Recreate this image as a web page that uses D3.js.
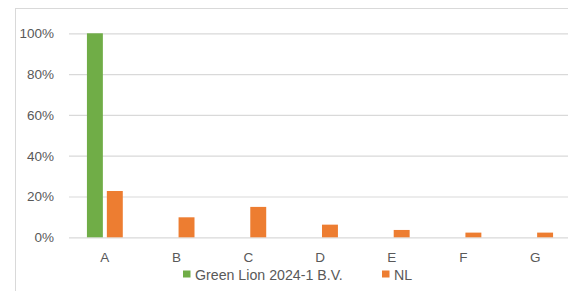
<!DOCTYPE html>
<html><head><meta charset="utf-8">
<script src="https://cdn.jsdelivr.net/npm/d3@7"></script>
<style>html,body{margin:0;padding:0;background:#fff;overflow:hidden}</style>
</head><body>
<svg id="c" width="568" height="291"></svg>
<script>
const categories = ["A","B","C","D","E","F","G"];
const seriesNames = ["Green Lion 2024-1 B.V.","NL"];
const greenLion = [100,0,0,0,0,0,0];
const nl = [22.7,9.8,14.9,6.2,3.6,2.3,2.3];
const yTicks = [0,20,40,60,80,100];
const colors = ["#70AD47","#ED7D31"];

(function(){
const svg = d3.select("#c");
const font = "'Liberation Sans', Arial, sans-serif";
const textColor = "#595959";

svg.append("rect").attr("x",15.5).attr("y",8.5).attr("width",600).attr("height",300)
  .attr("fill","#fff").attr("stroke","#d9d9d9").attr("stroke-width",1);

const pLeft = 69, pRight = 571, pTop = 33.3, pBottom = 237.3;
const x = d3.scaleBand().domain(categories).range([pLeft,pRight]).paddingInner(0.5).paddingOuter(0.25);
const xs = d3.scaleBand().domain(seriesNames).range([0,x.bandwidth()]).paddingInner(0.2);
const y = d3.scaleLinear().domain([0,100]).range([pBottom,pTop]);

const yAxis = d3.axisLeft(y).tickValues(yTicks).tickSize(-(pRight-pLeft)).tickFormat(d=>d+"%").tickPadding(15);
const gy = svg.append("g").attr("transform",`translate(${pLeft},0)`).call(yAxis);
gy.select(".domain").remove();
gy.selectAll(".tick line").attr("stroke","#d9d9d9").attr("stroke-width",1.2);
gy.selectAll(".tick text").attr("fill",textColor).style("font-family",font).style("font-size","13.5px");

const data = [greenLion, nl];
const g = svg.append("g");
data.forEach((vals,si)=>{
  g.selectAll(".b"+si).data(vals).enter().append("rect")
    .attr("x",(d,i)=>x(categories[i])+xs(seriesNames[si]))
    .attr("width",xs.bandwidth())
    .attr("y",d=>y(d))
    .attr("height",d=>y(0)-y(d))
    .attr("fill",colors[si]);
});

const xAxis = d3.axisBottom(x).tickSize(0).tickPadding(15);
const gx = svg.append("g").attr("transform",`translate(0,${pBottom})`).call(xAxis);
gx.select(".domain").remove();
gx.selectAll(".tick text").attr("fill",textColor).style("font-family",font).style("font-size","13.5px");

const legendX = [183, 382];
const lg = svg.append("g");
seriesNames.forEach((n,i)=>{
  lg.append("rect").attr("x",legendX[i]).attr("y",270.5).attr("width",7.5).attr("height",7).attr("fill",colors[i]);
  lg.append("text").attr("x",legendX[i]+12).attr("y",279.5).text(n)
    .attr("fill",textColor).style("font-family",font).style("font-size","14.2px");
});
})();
</script>
</body></html>
